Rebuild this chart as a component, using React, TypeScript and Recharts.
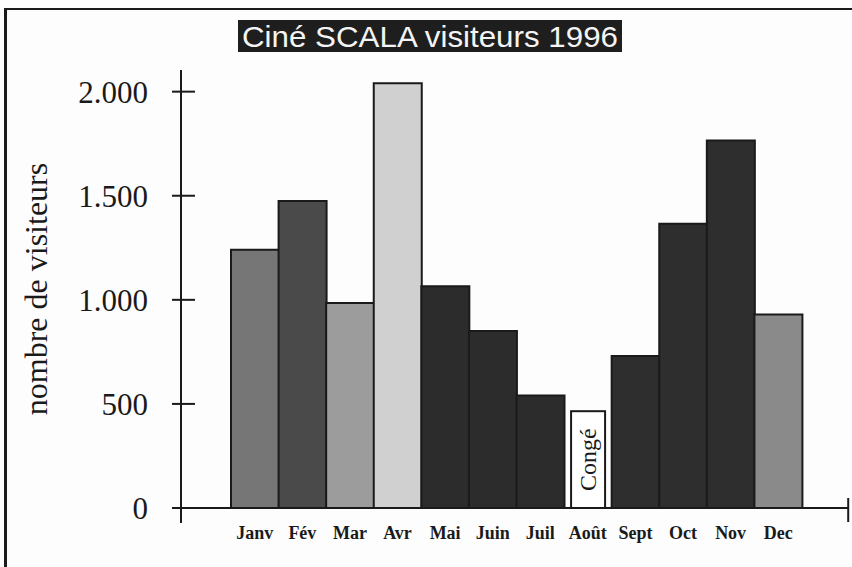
import { BarChart, Bar, XAxis, YAxis } from "recharts";

const months = ["Janv", "Fév", "Mar", "Avr", "Mai", "Juin", "Juil", "Août", "Sept", "Oct", "Nov", "Dec"];
// Août : cinéma fermé (congé), pas de visiteurs
const visitors = [1240, 1475, 985, 2040, 1065, 850, 540, 0, 730, 1365, 1765, 930];
// hauteur de la boîte "Congé" sur l'échelle des visiteurs
const conge = [0, 0, 0, 0, 0, 0, 0, 465, 0, 0, 0, 0];
const fills = ["#767676", "#4a4a4a", "#9c9c9c", "#d0d0d0", "#2c2c2c", "#2c2c2c", "#2c2c2c", "#ffffff", "#2e2e2e", "#2e2e2e", "#2e2e2e", "#8a8a8a"];
const yTicks = [0, 500, 1000, 1500, 2000];

const data = months.map((m, i) => ({ month: m, visitors: visitors[i], conge: conge[i], fill: fills[i] }));

const serif = "'Liberation Serif', 'Times New Roman', serif";

function YTick(props: any) {
  const { x, y, payload } = props;
  const label = payload.value === 0 ? "0" : payload.value.toLocaleString("de-DE");
  return (
    <g>
      <line x1={x - 9} x2={x + 14} y1={y} y2={y} stroke="#1a1a1a" strokeWidth={2} />
      {payload.value === 0 && <line x1={x} x2={x} y1={y} y2={y + 15} stroke="#1a1a1a" strokeWidth={2} />}
      {payload.value === 0 && <line x1={x - 6} x2={x} y1={y} y2={y} stroke="#1a1a1a" strokeWidth={2} />}
      <text x={x - 33} y={y} dy="0.35em" textAnchor="end" fontFamily={serif} fontSize={31} fill="#1a1a1a">
        {label}
      </text>
    </g>
  );
}

function XTick(props: any) {
  const { x, y, payload, index } = props;
  return (
    <g>
      {index === months.length - 1 && (
        <line x1={x + 70} x2={x + 70} y1={y - 12} y2={y + 12} stroke="#1a1a1a" strokeWidth={2} />
      )}
      <text x={x} y={y + 16} dy="0.71em" textAnchor="middle" fontFamily={serif} fontWeight="bold" fontSize={18} fill="#1a1a1a">
        {payload.value}
      </text>
    </g>
  );
}

function CongeBox(props: any) {
  const { x, y, width, height } = props;
  if (!height) return null;
  const inset = 7;
  const cx = x + width / 2;
  const cy = y + height / 2;
  return (
    <g>
      <rect x={x + inset} y={y} width={width - inset * 2} height={height} fill="#ffffff" stroke="#1a1a1a" strokeWidth={2} />
      <text
        x={cx}
        y={cy}
        dy="0.35em"
        textAnchor="middle"
        fontFamily={serif}
        fontSize={24}
        fill="#1a1a1a"
        transform={`rotate(-90 ${cx} ${cy})`}
      >
        Congé
      </text>
    </g>
  );
}

function YLabel(props: any) {
  const { viewBox } = props;
  const cx = viewBox.x + 36;
  const cy = viewBox.y + viewBox.height / 2;
  return (
    <text x={cx} y={cy} dy="0.35em" textAnchor="middle" fontFamily={serif} fontSize={32} fill="#1a1a1a" transform={`rotate(-90 ${cx} ${cy})`}>
      nombre de visiteurs
    </text>
  );
}

export default function App() {
  return (
    <div style={{ position: "relative", width: 852, height: 567, background: "#fdfdfd", overflow: "hidden" }}>
      <style>{"body{margin:0}"}</style>
      <div
        style={{
          position: "absolute",
          left: 4,
          top: 8,
          width: 860,
          height: 570,
          borderTop: "2px solid #1a1a1a",
          borderLeft: "3px solid #1a1a1a",
        }}
      />
      <svg width={384} height={32} style={{ position: "absolute", left: 238, top: 20 }}>
        <rect x={0} y={0} width={384} height={32} fill="#1e1e1e" />
        <text
          x={4}
          y={27}
          textLength={376}
          lengthAdjust="spacingAndGlyphs"
          fontFamily="'Liberation Sans', Arial, sans-serif"
          fontSize={30}
          fill="#f4f4f4"
        >
          Ciné SCALA visiteurs 1996
        </text>
      </svg>
      <BarChart
        width={852}
        height={567}
        data={data}
        margin={{ top: 70, right: 4, bottom: 19, left: 0 }}
        barCategoryGap={0}
        style={{ position: "absolute", left: 0, top: 0 }}
      >
        <XAxis
          dataKey="month"
          height={40}
          padding={{ left: 50, right: 46 }}
          axisLine={{ stroke: "#1a1a1a", strokeWidth: 2 }}
          tickLine={false}
          tickSize={0}
          tick={<XTick />}
          interval={0}
        />
        <YAxis
          width={181}
          domain={[0, 2104]}
          ticks={yTicks}
          allowDataOverflow
          axisLine={{ stroke: "#1a1a1a", strokeWidth: 2 }}
          tickLine={false}
          tickSize={0}
          tickMargin={0}
          tick={<YTick />}
          label={{ content: <YLabel /> }}
        />
        <Bar dataKey="visitors" stackId="m" stroke="#1a1a1a" strokeWidth={2} isAnimationActive={false} />
        <Bar dataKey="conge" stackId="m" shape={<CongeBox />} isAnimationActive={false} />
      </BarChart>
    </div>
  );
}
